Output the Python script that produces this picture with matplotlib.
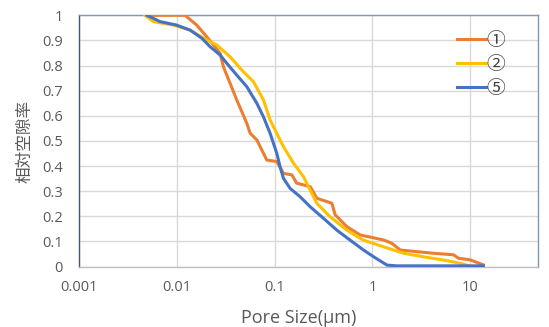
import matplotlib
matplotlib.use("Agg")
import matplotlib.pyplot as plt
from matplotlib.lines import Line2D

# pore size (um) vs relative porosity
size_1 = [0.0050, 0.0073, 0.0121, 0.0159, 0.0201, 0.0276, 0.0298, 0.0409, 0.0518, 0.0560, 0.0656,
          0.0830, 0.105, 0.123, 0.150, 0.168, 0.231, 0.270, 0.385, 0.416, 0.548, 0.750,
          1.30, 1.58, 1.93, 4.23, 6.78, 7.62, 10.0, 13.7]
poro_1 = [1.0, 1.0, 1.0, 0.961, 0.915, 0.849, 0.796, 0.663, 0.570, 0.531, 0.504,
          0.424, 0.418, 0.371, 0.365, 0.332, 0.318, 0.272, 0.252, 0.206, 0.159, 0.126,
          0.106, 0.093, 0.066, 0.053, 0.047, 0.033, 0.027, 0.007]

size_2 = [0.0047, 0.0057, 0.0092, 0.0136, 0.0201, 0.0255, 0.0349, 0.0478, 0.0605, 0.0767, 0.0898,
          0.105, 0.123, 0.156, 0.197, 0.231, 0.270, 0.370, 0.548, 0.811, 1.30, 2.09,
          3.34, 5.35, 7.94, 10.5]
poro_2 = [1.0, 0.975, 0.961, 0.941, 0.902, 0.882, 0.835, 0.775, 0.736, 0.663, 0.583,
          0.530, 0.477, 0.411, 0.358, 0.304, 0.252, 0.198, 0.145, 0.105, 0.079, 0.053,
          0.039, 0.026, 0.013, 0.0]

size_5 = [0.0049, 0.0053, 0.0067, 0.0099, 0.0136, 0.0179, 0.0218, 0.0276, 0.0323, 0.0409, 0.0518,
          0.0656, 0.0767, 0.0898, 0.105, 0.1135, 0.123, 0.144, 0.182, 0.231, 0.316, 0.433,
          0.593, 0.811, 1.03, 1.41, 1.78, 13.7]
poro_5 = [1.0, 0.994, 0.975, 0.961, 0.941, 0.909, 0.875, 0.842, 0.809, 0.762, 0.716,
          0.650, 0.596, 0.530, 0.451, 0.397, 0.351, 0.311, 0.278, 0.238, 0.192, 0.145,
          0.105, 0.066, 0.039, 0.006, 0.003, 0.003]

labels = ["①", "②", "⑤"]
colors = ["#ED7D31", "#FFC000", "#4472C4"]
x_ticks = [0.001, 0.01, 0.1, 1, 10]
x_tick_labels = ["0.001", "0.01", "0.1", "1", "10"]
y_ticks = [0, 0.1, 0.2, 0.3, 0.4, 0.5, 0.6, 0.7, 0.8, 0.9, 1]
y_tick_labels = ["0", "0.1", "0.2", "0.3", "0.4", "0.5", "0.6", "0.7", "0.8", "0.9", "1"]

plt.rcParams['font.family'] = ['Open Sans', 'Noto Sans CJK JP', 'DejaVu Sans']
text_grey = "#595959"

fig = plt.figure(figsize=(5.49, 3.27), dpi=100)
ax = fig.add_axes([0.1446, 0.1847, 0.8359, 0.7685])

for xs, ys, c, lab in zip([size_1, size_2, size_5], [poro_1, poro_2, poro_5], colors, labels):
    ax.plot(xs, ys, color=c, lw=2.2, label=lab, solid_joinstyle='round', zorder=3)

ax.set_xscale('log')
ax.set_xlim(0.001, 50)
ax.set_ylim(0, 1)
ax.set_xticks(x_ticks)
ax.set_xticklabels(x_tick_labels)
ax.set_yticks(y_ticks)
ax.set_yticklabels(y_tick_labels)
ax.minorticks_off()
ax.tick_params(length=0, labelsize=10.5, colors=text_grey)
ax.tick_params(axis='x', pad=10)
ax.tick_params(axis='y', pad=12)

ax.grid(True, color="#D9D9D9", lw=1.0, zorder=0)
ax.set_axisbelow(True)
ax.spines['left'].set_color("#44546A")
ax.spines['top'].set_color("#8497B0")
ax.spines['right'].set_color("#8497B0")
ax.spines['bottom'].set_color("#BFBFBF")
for s in ax.spines.values():
    s.set_linewidth(1.0)

ax.set_xlabel("Pore Size(μm)", fontsize=13, color=text_grey)
ax.xaxis.set_label_coords(0.478, -0.205)
ax.xaxis.label.set_va('center')
ax.set_ylabel("相対空隙率", fontsize=12, color=text_grey, labelpad=6,
              family=['Noto Sans CJK JP', 'DejaVu Sans'])

handles = [Line2D([], [], color=c, lw=2.2) for c in colors]
leg = ax.legend(handles, labels, loc='upper right', bbox_to_anchor=(0.927, 0.943),
                frameon=False, handlelength=1.55, handletextpad=0.0, labelspacing=0.17,
                borderpad=0, borderaxespad=0,
                prop={'family': ['Noto Sans CJK JP', 'DejaVu Sans'], 'size': 13.5})
for t in leg.get_texts():
    t.set_color("#404040")

fig.savefig("out.png", dpi=100)
